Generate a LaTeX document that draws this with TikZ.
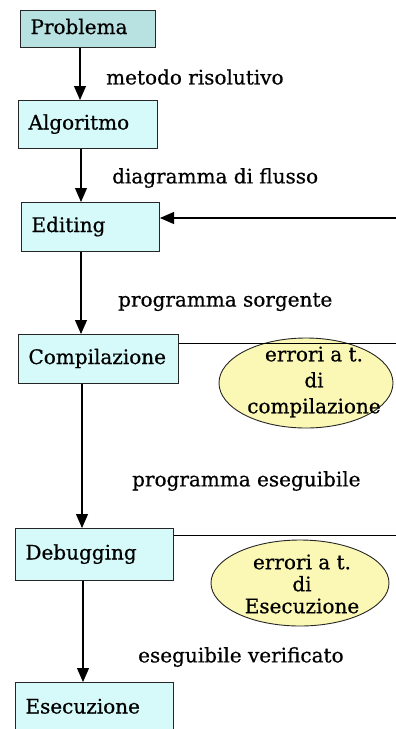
\documentclass[tikz,border=0pt]{standalone}
\usepackage{fontspec}
\setmainfont{DejaVu Serif}[FakeBold=0.6]
\usepackage{tikz}
\usetikzlibrary{arrows.meta,shapes.geometric,positioning}
\definecolor{colorStart}{HTML}{B8E2E2}
\definecolor{colorStep}{HTML}{D6FAFA}
\definecolor{colorError}{HTML}{FAF8B4}

\tikzset{
  stepbox/.style={draw=black!85, line width=1pt, fill=colorStep, anchor=north west, align=left,
    inner xsep=10pt, inner ysep=0pt, text height=14pt, text depth=4pt},
  errbox/.style={draw=black!85, line width=0.9pt, ellipse, fill=colorError, inner sep=0pt},
  flow/.style={line width=1.1pt, -{Triangle[length=14pt,width=12pt]}},
  link/.style={line width=0.9pt},
  lbl/.style={anchor=west, inner sep=0pt}
}

\begin{document}
\begin{tikzpicture}[x=1pt, y=-1pt, font=\fontsize{20}{24}\selectfont]
        \useasboundingbox (0,0) rectangle (396,729);
        % phases
        \node[stepbox, fill=colorStart, text width=115pt, minimum height=37pt] (prob) at (20,10) {Problema};
        \node[stepbox, text width=119pt, minimum height=48pt] (algo) at (18,100) {Algoritmo};
        \node[stepbox, text width=118pt, minimum height=49pt] (edit) at (21,202) {Editing};
        \node[stepbox, text width=140pt, minimum height=49pt] (comp) at (18,334) {Compilazione};
        \node[stepbox, text width=138pt, minimum height=52pt] (debug) at (15,528) {Debugging};
        \node[stepbox, text width=138pt, minimum height=52pt] (esec) at (15,682) {Esecuzione};
        % errors
        \node[errbox, minimum width=174pt, minimum height=90pt] (err1) at (306,383) {};
        \node[align=center, inner sep=0pt, font=\fontsize{20}{26}\selectfont] (err1txt) at (314,382) {errori a t.\\di\\compilazione};
        \node[errbox, minimum width=178pt, minimum height=86pt] (err2) at (300,583) {};
        \node[align=center, inner sep=0pt, font=\fontsize{20}{22}\selectfont] (err2txt) at (302,584) {errori a t.\\di\\Esecuzione};
        % arrows
        \draw[flow] (prob.south west) ++(60,0) coordinate (a1) -- (a1 |- algo.north);
        \draw[flow] (algo.south west) ++(63,0) coordinate (a2) -- (a2 |- edit.north);
        \draw[flow] (edit.south west) ++(60,0) coordinate (a3) -- (a3 |- comp.north);
        \draw[flow] (comp.south west) ++(64,0) coordinate (a4) -- (a4 |- debug.north);
        \draw[flow] (debug.south west) ++(68,0) coordinate (a5) -- (a5 |- esec.north);
        % back links
        \coordinate (fb) at (396,218);
        \draw[flow] (fb) -- (fb -| edit.east);
        \coordinate (c1) at (396,343);
        \draw[link] (c1 -| comp.east) -- (c1);
        \coordinate (c2) at (396,535);
        \draw[link] (c2 -| debug.east) -- (c2);
        % labels
        \node[lbl] (l1) at (106,77) {metodo risolutivo};
        \node[lbl] (l2) at (112,178) {diagramma di flusso};
        \node[lbl] (l3) at (118,302) {programma sorgente};
        \node[lbl] (l4) at (132,481) {programma eseguibile};
        \node[lbl] (l5) at (138,657) {eseguibile verificato};
    \end{tikzpicture}
\end{document}
